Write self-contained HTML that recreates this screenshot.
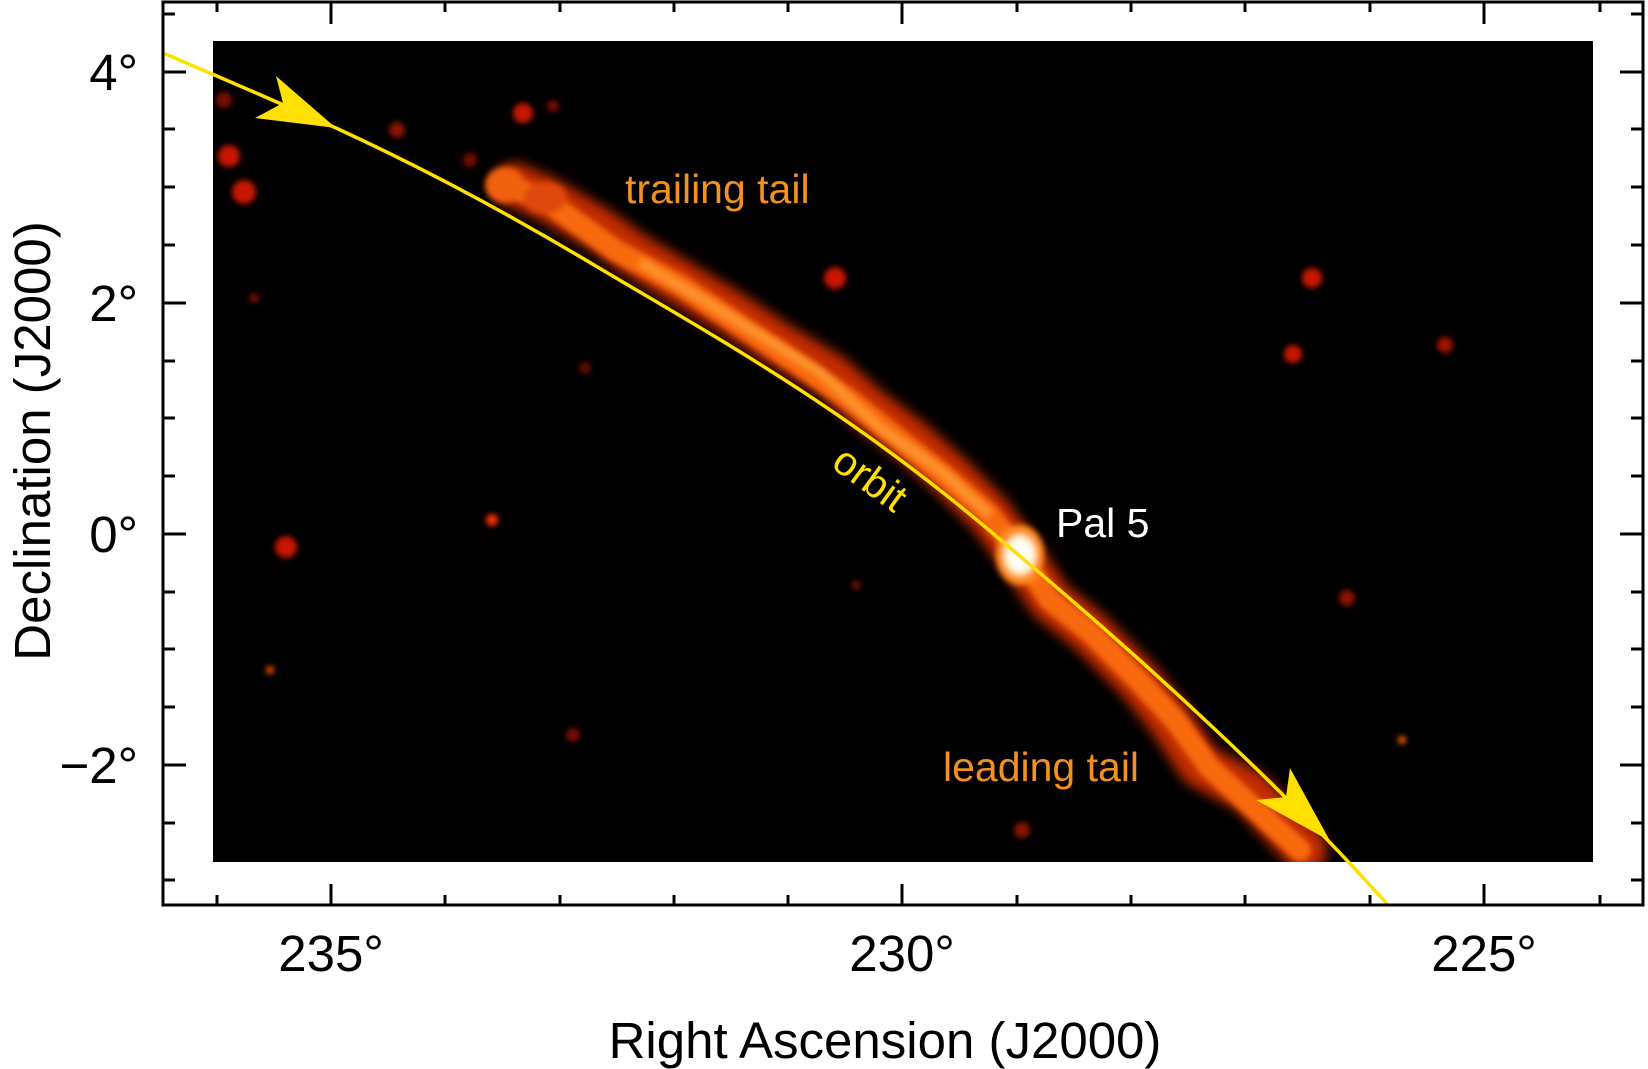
<!DOCTYPE html>
<html><head><style>html,body{margin:0;padding:0;background:#fff}svg{display:block}</style></head><body>
<svg width="1648" height="1069" viewBox="0 0 1648 1069" xmlns="http://www.w3.org/2000/svg" font-family="Liberation Sans, sans-serif">
<defs>
<filter id="b" x="-50%" y="-50%" width="200%" height="200%"><feGaussianBlur stdDeviation="6"/></filter>
<filter id="b2" x="-50%" y="-50%" width="200%" height="200%"><feGaussianBlur stdDeviation="3"/></filter>
<clipPath id="c"><rect x="213" y="41" width="1380" height="821"/></clipPath>
</defs>
<rect x="213" y="41" width="1380" height="821" fill="#000"/>
<g clip-path="url(#c)">
<g filter="url(#b)">
<polyline points="515,185 545,198 600,230 630,252 680,282 730,312 780,345 830,375 870,410 910,440 950,475 990,515 1020,555 1050,600 1090,632 1140,682 1170,720 1200,765 1250,792 1305,850" fill="none" stroke="#d83000" stroke-width="44" stroke-linecap="round" opacity="0.9"/>
</g>
<g filter="url(#b2)">
<polyline points="505,185 545,200 615,250 680,285 740,325 800,365 850,400 900,440 950,480 990,515 1020,555 1050,600 1090,632 1140,682 1175,720 1210,768 1300,850" fill="none" stroke="#f86a10" stroke-width="22" stroke-linecap="round"/>
<polyline points="640,262 700,298 760,335 820,372 880,428 940,470 990,515" fill="none" stroke="#ff9a30" stroke-width="10" opacity="0.8"/>
<ellipse cx="1020" cy="555" rx="24" ry="30" fill="#ff9020"/>
<ellipse cx="1020" cy="555" rx="16" ry="20" fill="#fff4d0"/>
<ellipse cx="1020" cy="555" rx="10" ry="14" fill="#fff"/>
<ellipse cx="505" cy="185" rx="20" ry="18" fill="#f06010"/>
<ellipse cx="545" cy="198" rx="22" ry="16" fill="#e04a08"/>
</g>
<g filter="url(#b2)" fill="#c81800">
<circle cx="229" cy="156" r="11"/><circle cx="244" cy="192" r="12"/><circle cx="224" cy="100" r="8" opacity=".6"/>
<circle cx="286" cy="547" r="11"/><circle cx="523" cy="113" r="10"/><circle cx="553" cy="106" r="6" opacity=".6"/>
<circle cx="397" cy="130" r="8" opacity=".7"/><circle cx="470" cy="160" r="7" opacity=".6"/>
<circle cx="835" cy="278" r="11"/><circle cx="1312" cy="278" r="10"/><circle cx="1293" cy="354" r="9"/>
<circle cx="1445" cy="345" r="8" opacity=".8"/><circle cx="492" cy="520" r="6" fill="#ff3000"/>
<circle cx="1022" cy="830" r="8" opacity=".7"/><circle cx="1347" cy="598" r="8" opacity=".7"/>
<circle cx="573" cy="735" r="7" opacity=".6"/><circle cx="585" cy="368" r="6" opacity=".5"/>
<circle cx="254" cy="298" r="5" opacity=".6"/><circle cx="270" cy="670" r="4" fill="#ff5000"/>
<circle cx="856" cy="585" r="4" opacity=".7"/><circle cx="1402" cy="740" r="4" fill="#ff6000"/>
</g>
</g>
<!-- orbit -->
<path d="M163,53 Q250,90 336,128 Q460,185 589,262 C720,340 850,410 1009,547 C1150,665 1290,795 1387,904" fill="none" stroke="#ffe000" stroke-width="3.5"/>
<polygon points="336,128 255,118 283,103 276,76" fill="#ffe000"/>
<polygon points="1330,841 1256,800 1286,797 1290,768" fill="#ffe000"/>
<!-- axes frame -->
<rect x="163" y="2" width="1480" height="903" fill="none" stroke="#000" stroke-width="3"/>
<g stroke="#000" stroke-width="3">
<line x1="217" y1="905" x2="217" y2="895"/><line x1="331" y1="905" x2="331" y2="884"/><line x1="445" y1="905" x2="445" y2="895"/><line x1="560" y1="905" x2="560" y2="895"/><line x1="674" y1="905" x2="674" y2="895"/><line x1="788" y1="905" x2="788" y2="895"/><line x1="902" y1="905" x2="902" y2="884"/><line x1="1017" y1="905" x2="1017" y2="895"/><line x1="1131" y1="905" x2="1131" y2="895"/><line x1="1245" y1="905" x2="1245" y2="895"/><line x1="1370" y1="905" x2="1370" y2="895"/><line x1="1484" y1="905" x2="1484" y2="884"/><line x1="1600" y1="905" x2="1600" y2="895"/>
<line x1="217" y1="2" x2="217" y2="12"/><line x1="331" y1="2" x2="331" y2="24"/><line x1="445" y1="2" x2="445" y2="12"/><line x1="560" y1="2" x2="560" y2="12"/><line x1="674" y1="2" x2="674" y2="12"/><line x1="788" y1="2" x2="788" y2="12"/><line x1="902" y1="2" x2="902" y2="24"/><line x1="1017" y1="2" x2="1017" y2="12"/><line x1="1131" y1="2" x2="1131" y2="12"/><line x1="1245" y1="2" x2="1245" y2="12"/><line x1="1370" y1="2" x2="1370" y2="12"/><line x1="1484" y1="2" x2="1484" y2="24"/><line x1="1600" y1="2" x2="1600" y2="12"/>
<line x1="163" y1="14" x2="175" y2="14"/><line x1="163" y1="72" x2="186" y2="72"/><line x1="163" y1="129" x2="175" y2="129"/><line x1="163" y1="187" x2="175" y2="187"/><line x1="163" y1="245" x2="175" y2="245"/><line x1="163" y1="303" x2="186" y2="303"/><line x1="163" y1="361" x2="175" y2="361"/><line x1="163" y1="418" x2="175" y2="418"/><line x1="163" y1="476" x2="175" y2="476"/><line x1="163" y1="534" x2="186" y2="534"/><line x1="163" y1="592" x2="175" y2="592"/><line x1="163" y1="649" x2="175" y2="649"/><line x1="163" y1="707" x2="175" y2="707"/><line x1="163" y1="765" x2="186" y2="765"/><line x1="163" y1="823" x2="175" y2="823"/><line x1="163" y1="880" x2="175" y2="880"/>
<line x1="1643" y1="14" x2="1631" y2="14"/><line x1="1643" y1="72" x2="1620" y2="72"/><line x1="1643" y1="129" x2="1631" y2="129"/><line x1="1643" y1="187" x2="1631" y2="187"/><line x1="1643" y1="245" x2="1631" y2="245"/><line x1="1643" y1="303" x2="1620" y2="303"/><line x1="1643" y1="361" x2="1631" y2="361"/><line x1="1643" y1="418" x2="1631" y2="418"/><line x1="1643" y1="476" x2="1631" y2="476"/><line x1="1643" y1="534" x2="1620" y2="534"/><line x1="1643" y1="592" x2="1631" y2="592"/><line x1="1643" y1="649" x2="1631" y2="649"/><line x1="1643" y1="707" x2="1631" y2="707"/><line x1="1643" y1="765" x2="1620" y2="765"/><line x1="1643" y1="823" x2="1631" y2="823"/><line x1="1643" y1="880" x2="1631" y2="880"/>
</g>
<g font-size="51" fill="#000">
<text x="138" y="90" text-anchor="end">4°</text>
<text x="138" y="321" text-anchor="end">2°</text>
<text x="138" y="552" text-anchor="end">0°</text>
<text x="138" y="783" text-anchor="end">−2°</text>
<text x="331" y="971" text-anchor="middle">235°</text>
<text x="902" y="971" text-anchor="middle">230°</text>
<text x="1484" y="971" text-anchor="middle">225°</text>
<text x="885" y="1058" text-anchor="middle">Right Ascension (J2000)</text>
<text transform="translate(50,441) rotate(-90)" text-anchor="middle">Declination (J2000)</text>
</g>
<g font-size="41">
<text x="625" y="203" fill="#f39020">trailing tail</text>
<text x="943" y="781" fill="#f39020">leading tail</text>
<text x="1056" y="537" fill="#fff">Pal 5</text>
<text transform="translate(862,490) rotate(36)" text-anchor="middle" fill="#ffe000">orbit</text>
</g>
</svg>
</body></html>
